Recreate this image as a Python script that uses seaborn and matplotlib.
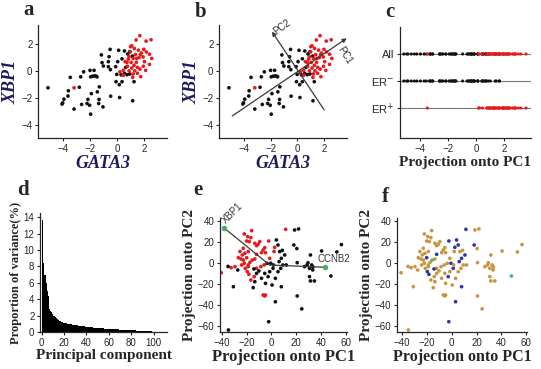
import numpy as np
import pandas as pd
import seaborn as sns
import matplotlib.pyplot as plt

# ---- panel a/b: GATA3 vs XBP1 expression, ER status ----
gata3_neg = [-5.11, -3.46, -3.60, -3.63, -3.93, -4.02, -4.07, -3.18, -2.79, -2.69, -2.47, -2.00,
             -1.70, -1.95, -1.80, -1.65, -1.55, -1.48, -2.62, -2.15, -1.90, -2.22, -2.03, -1.95,
             -1.46, -1.31, -1.33, -1.36, -1.04, -1.16, -1.11, -0.64, -0.51, -0.59, -0.64, -0.49,
             -0.47, -0.10, -0.02, -0.07, 0.17, 0.19, 0.12, 0.37, 0.30, 0.55, 0.74, 0.94, 0.64,
             0.55, 0.79, 1.16, 1.26, 1.14, 0.05, 0.37, -1.01, 0.94]
xbp1_neg = [-1.24, -0.47, -1.46, -1.85, -2.08, -2.35, -2.44, -2.81, -1.20, -0.43, -0.06, 0.05,
            0.05, -0.43, -0.38, -0.36, -0.38, -0.43, -2.47, -2.10, -1.67, -2.40, -2.53, -3.19,
            -1.54, -1.17, -2.10, -2.40, -2.65, 1.19, 0.62, 0.69, 1.60, 1.06, 0.32, 0.10,
            -1.86, 0.32, -0.25, -0.79, -1.01, -1.96, 1.53, 0.90, -0.28, -0.17, -0.27, -0.22, 0.27,
            1.48, 1.26, -2.20, -0.79, 1.10, 0.69, -0.79, 0.37, 1.43]
gata3_pos = [-3.18, 1.69, 1.41, 2.15, 2.52, 1.09, 1.28, 1.58, 1.98, 2.17, 0.99, 1.36, 1.73, 1.93,
             1.63, 1.19, 0.84, 0.60, 1.04, 1.43, 2.03, 2.57, 2.40, 1.26, 0.77, 1.09, 1.51, 1.95,
             0.47, 0.22, 0.89, 1.31, 1.70, 2.12, 0.47, 1.19, 1.51, 1.16, 1.75, 0.74, 1.45, 0.89,
             1.80, 1.00, 2.40]
xbp1_pos = [-1.24, 2.61, 2.29, 2.21, 2.31, 1.86, 1.67, 1.54, 1.60, 1.41, 1.41, 1.21, 1.21, 1.04,
            0.99, 0.93, 0.88, 0.69, 0.64, 0.64, 0.69, 0.93, 0.49, 0.42, 0.35, 0.22, 0.27, 0.35,
            0.05, -0.06, 0.01, 0.01, 0.14, 0.05, -0.32, -0.22, -0.17, -0.47, -0.42, 0.64, 0.93, 1.06,
            1.33, 1.80, 1.24]

# PC axes drawn in panel b (start -> arrow tip)
pc1_arrow = [(-4.86, -3.32), (3.68, 2.42)]
pc2_arrow = [(2.00, -2.88), (-1.90, 2.91)]

# ---- panel d: proportion of variance per principal component ----
var_pct = [13.7, 8.4, 7.0, 6.0, 5.0, 4.4, 2.8, 2.6, 2.4, 2.2, 2.0, 1.85, 1.7, 1.6, 1.5, 1.4, 1.3,
           1.25, 1.2, 1.15, 1.1, 1.05, 1.0, 1.0, 0.97, 0.95, 0.92, 0.9, 0.88, 0.85, 0.83, 0.8,
           0.78, 0.76, 0.74, 0.72, 0.7, 0.68, 0.66, 0.64, 0.62, 0.6, 0.58, 0.57, 0.55, 0.54,
           0.52, 0.51, 0.5, 0.48, 0.47, 0.46, 0.45, 0.44, 0.43, 0.42, 0.41, 0.40, 0.39, 0.38,
           0.37, 0.36, 0.35, 0.35, 0.34, 0.33, 0.32, 0.31, 0.31, 0.30, 0.30, 0.29, 0.29, 0.28,
           0.28, 0.27, 0.27, 0.26, 0.26, 0.25, 0.25, 0.24, 0.22, 0.2, 0.18, 0.16, 0.14, 0.13,
           0.12, 0.11, 0.10, 0.10, 0.09, 0.09, 0.08, 0.08, 0.07, 0.07, 0.06, 0.06, 0.05, 0.05, 0.04]

# ---- panel e/f: samples projected onto PC1/PC2 of all genes ----
proj_pc1 = [-21.9, -19.2, -16.0, -16.6, -20.0, -17.9, -13.4, -12.0, -10.7, -9.4, -2.2, 2.6, 2.1,
            -5.4, -6.7, -4.8, 11.5, -22.7, -25.4, -21.4, -18.7, -26.7, -24.6, -22.7, -20.0, -21.9,
            -24.0, -18.7, -17.3, -15.5, -13.4, -21.1, -19.5, -18.7, -32.5, -29.4, -40.5, -12.0,
            -8.5, -5.9, -16.6, -18.2, -13.9, -6.7, -5.4, -4.8, -8.0, -12.0, -1.4, -23.5,
            -30.7, -27.2, -13.4, -14.7, -14.1, -12.0, -10.1, -5.4, -8.0, -4.8, -2.7, -1.4, 1.3,
            0.5, 3.2, 5.3, 7.5, 9.3, 8.0, 6.7, 5.3, 4.0, 8.8, 10.7, 12.0, 8.0, 3.2, -2.2, 18.7,
            21.9, 18.1, 20.8, 26.7, 28.8, 30.7, 32.5, 33.3, 30.7, 34.7, 31.5, 20.8, 24.5, 40.5,
            52.8, 56.5, 31.5, 48.0, -3.5, -0.5, 1.6, -34.7, 6.2, 29.5, 33.5, 20.5, -35.0]
proj_pc2 = [27.9, 25.4, 31.1, 24.4, 21.2, 20.6, 19.0, 16.8, 18.1, 20.6, 21.2, 15.2, 11.2, 14.9,
            12.7, 10.1, 32.3, 14.3, 11.2, 9.5, 11.2, 5.3, 4.1, 3.1, 5.3, 0.0, -1.6, -1.6, 0.9, 3.1,
            4.1, -4.8, -7.9, -3.2, -4.2, -3.2, -9.0, -4.8, -3.2, -1.6, -15.9, -10.5, -12.7, -30.2,
            -31.1, -30.2, 10.1, 8.5, 4.7, 7.9,
            -22.3, -6.4, -17.5, -23.2, -5.4, -9.6, -7.3, -9.6, -14.3, -19.1, -12.7, -8.0, -4.8,
            -20.7, -14.3, -8.0, -4.8, -1.6, 4.7, 11.1, 17.4, 22.2, 12.3, 7.9, -1.6, -22.3, -36.6,
            -55.6, 31.7, 32.7, 17.4, 0.6, -3.2, -1.6, -4.8, -1.6, -6.3, -12.7, -16.8, -16.8, -31.1,
            -43.4, 11.7, 10.8, 17.8, 7.9, -12.1, 0.0, 0.0, -1.6, -63.5, 1.6, 0.5, -3.5, 14.0, -3.0]
er_status = ['ER+'] * 50 + ['ER-'] * 56
subtype = ['L'] * 10 + ['B', 'B', 'L', 'L', 'L', 'L', 'B', 'L', 'L', 'L', 'L', 'L', 'L', 'L', 'B',
           'L', 'L', 'L', 'L', 'N', 'L', 'L', 'B', 'L', 'L', 'L', 'L', 'L', 'L', 'L', 'L', 'B',
           'L', 'L', 'L', 'L', 'L', 'B', 'L', 'L',
           'L', 'L', 'L', 'L', 'B', 'L', 'L', 'L', 'L', 'L', 'B', 'L', 'B', 'L', 'L', 'L', 'L',
           'L', 'B', 'L', 'B', 'B', 'L', 'B', 'L', 'B', 'B', 'B', 'L', 'L', 'B', 'L', 'L', 'L',
           'L', 'L', 'L', 'L', 'L', 'L', 'L', 'L', 'L', 'L', 'L', 'L', 'N', 'L', 'B', 'L', 'L',
           'B', 'L', 'L', 'L', 'L']

# gene loadings shown in panel e
load_genes = ['XBP1', 'CCNB2']
load_pc1 = [-37.9, 43.2]
load_pc2 = [33.3, -3.8]
load_origin = (-1.4, -1.6)

# ---- style ----
sns.set_style('ticks')
plt.rcParams['font.family'] = ['Liberation Sans', 'DejaVu Sans']
plt.rcParams['xtick.labelsize'] = 7
plt.rcParams['ytick.labelsize'] = 7
plt.rcParams['xtick.major.size'] = 2.5
plt.rcParams['ytick.major.size'] = 2.5
plt.rcParams['axes.linewidth'] = 0.9

RED = '#e41a1c'
NAVY = '#1c1c5a'
serif = dict(family='Liberation Serif', weight='bold')

W, H = 541, 369
fig = plt.figure(figsize=(W / 100, H / 100), dpi=100)


def add_ax(l, r, t, b):
    return fig.add_axes([l / W, (H - b) / H, (r - l) / W, (b - t) / H])


ax_a = add_ax(38, 167, 25, 138)
ax_b = add_ax(219, 347, 25, 138)
ax_c = add_ax(400, 531, 27, 138)
ax_d = add_ax(40, 167, 213, 332)
ax_e = add_ax(220, 347, 218, 332)
ax_f = add_ax(397, 527, 218, 332)

ab = pd.DataFrame({
    'GATA3': gata3_neg + gata3_pos,
    'XBP1': xbp1_neg + xbp1_pos,
    'ER': ['ER-'] * len(gata3_neg) + ['ER+'] * len(gata3_pos),
})

# a & b scatter
for ax in (ax_a, ax_b):
    sns.scatterplot(data=ab, x='GATA3', y='XBP1', hue='ER', palette={'ER-': '#111111', 'ER+': RED},
                    s=7, linewidth=0, legend=False, ax=ax)
    ax.set_xlim(-5.85, 3.7)
    ax.set_ylim(-4.95, 3.4)
    ax.set_xticks([-4, -2, 0, 2])
    ax.set_yticks([-4, -2, 0, 2])
    ax.set_xlabel('GATA3', fontsize=13, style='italic', color=NAVY, labelpad=1, **serif)
    ax.set_ylabel('XBP1', fontsize=13, style='italic', color=NAVY, labelpad=1, **serif)

for (x0, y0), (x1, y1), name, pos, rot, va in [
        (pc1_arrow[0], pc1_arrow[1], 'PC1', (3.5, 1.95), -58, 'top'),
        (pc2_arrow[0], pc2_arrow[1], 'PC2', (-1.5, 2.55), 36, 'bottom')]:
    ax_b.annotate('', xy=(x1, y1), xytext=(x0, y0),
                  arrowprops=dict(arrowstyle='-|>', color='#3a3a3a', lw=0.9,
                                  mutation_scale=6, shrinkA=0, shrinkB=0))
    ax_b.text(pos[0], pos[1], name, fontsize=7, rotation=rot, color='#333333',
              ha='left', va=va, rotation_mode='anchor')

# c: projections onto PC1
ang = np.arctan2(pc1_arrow[1][1] - pc1_arrow[0][1], pc1_arrow[1][0] - pc1_arrow[0][0])
ab['proj'] = 1.05 * (ab['GATA3'] * np.cos(ang) + ab['XBP1'] * np.sin(ang))
rows = {'All': 3, 'ER-': 2, 'ER+': 1}
all_rows = pd.concat([ab.assign(row=rows['All']),
                      ab.assign(row=ab['ER'].map(rows))])
for lvl in rows.values():
    ax_c.axhline(lvl, color='#777777', lw=0.8, zorder=0)
sns.scatterplot(data=all_rows.sort_values('ER', ascending=False), x='proj', y='row', hue='ER',
                palette={'ER-': '#111111', 'ER+': RED}, s=5, linewidth=0, legend=False, ax=ax_c)
ax_c.set_xlim(-5.45, 3.9)
ax_c.set_ylim(-0.11, 4.0)
ax_c.set_xticks([-4, -2, 0, 2])
ax_c.set_yticks([3, 2, 1])
ax_c.set_yticklabels(['All', 'ER$^{-}$', 'ER$^{+}$'], fontsize=8)
ax_c.set_xlabel('Projection onto PC1', fontsize=11, labelpad=2, **serif)
ax_c.set_ylabel('')

# d: scree bars
scree = pd.DataFrame({'pc': np.arange(1, len(var_pct) + 1), 'var': var_pct})
sns.barplot(data=scree, x='pc', y='var', native_scale=True, color='black', width=1,
            linewidth=0, ax=ax_d)
ax_d.set_xlim(-1.5, 112)
ax_d.set_ylim(0, 14.5)
ax_d.set_xticks([0, 20, 40, 60, 80, 100])
ax_d.set_yticks(range(0, 15, 2))
ax_d.set_xlabel('Principal component', fontsize=11, labelpad=1, **serif)
ax_d.set_ylabel('Proportion of variance(%)', fontsize=9, labelpad=1, **serif)

ef = pd.DataFrame({'PC1': proj_pc1, 'PC2': proj_pc2, 'ER': er_status, 'sub': subtype})

# e: ER status + gene loadings
sns.scatterplot(data=ef, x='PC1', y='PC2', hue='ER', palette={'ER-': '#111111', 'ER+': RED},
                s=7, linewidth=0, legend=False, ax=ax_e)
for gx, gy in zip(load_pc1, load_pc2):
    ax_e.plot([load_origin[0], gx], [load_origin[1], gy], color='#3a3a3a', lw=0.9, zorder=1)
sns.scatterplot(x=load_pc1, y=load_pc2, color='#4cae6a', s=16, linewidth=0, ax=ax_e, zorder=3)
ax_e.text(load_pc1[0] + 2.5, load_pc2[0] + 3, load_genes[0], fontsize=7, rotation=45,
          rotation_mode='anchor', ha='left', va='bottom', color='#333333')
ax_e.text(load_pc1[1] - 6, load_pc2[1] + 8, load_genes[1], fontsize=7, ha='left',
          va='center', color='#333333')

# f: subtype colouring
sns.scatterplot(data=ef, x='PC1', y='PC2', hue='sub',
                palette={'L': '#c8963f', 'B': '#2f38a0', 'N': '#4cbb6f'},
                s=7, linewidth=0, legend=False, ax=ax_f)

for ax, xl, fs in ((ax_e, (-41.5, 61), 12), (ax_f, (-43.8, 60.5), 11.5)):
    ax.set_xlim(*xl)
    ax.set_ylim(-65.4, 43.1)
    ax.set_xticks([-40, -20, 0, 20, 40, 60])
    ax.set_yticks([-60, -40, -20, 0, 20, 40])
    ax.set_xlabel('Projection onto PC1', fontsize=fs, labelpad=1, **serif)
    ax.set_ylabel('Projection onto PC2', fontsize=11, labelpad=1, **serif)

for ax in (ax_a, ax_b, ax_c, ax_d, ax_e, ax_f):
    sns.despine(ax=ax)
    ax.tick_params(pad=1.5, width=0.8)

for lab, x, y in [('a', 23, 15), ('b', 195, 17), ('c', 385, 17),
                  ('d', 17, 195), ('e', 193, 195), ('f', 382, 202)]:
    fig.text(x / W, 1 - y / H, lab, fontsize=15, **serif, ha='left', va='baseline')

fig.savefig('out.png', dpi=100)
